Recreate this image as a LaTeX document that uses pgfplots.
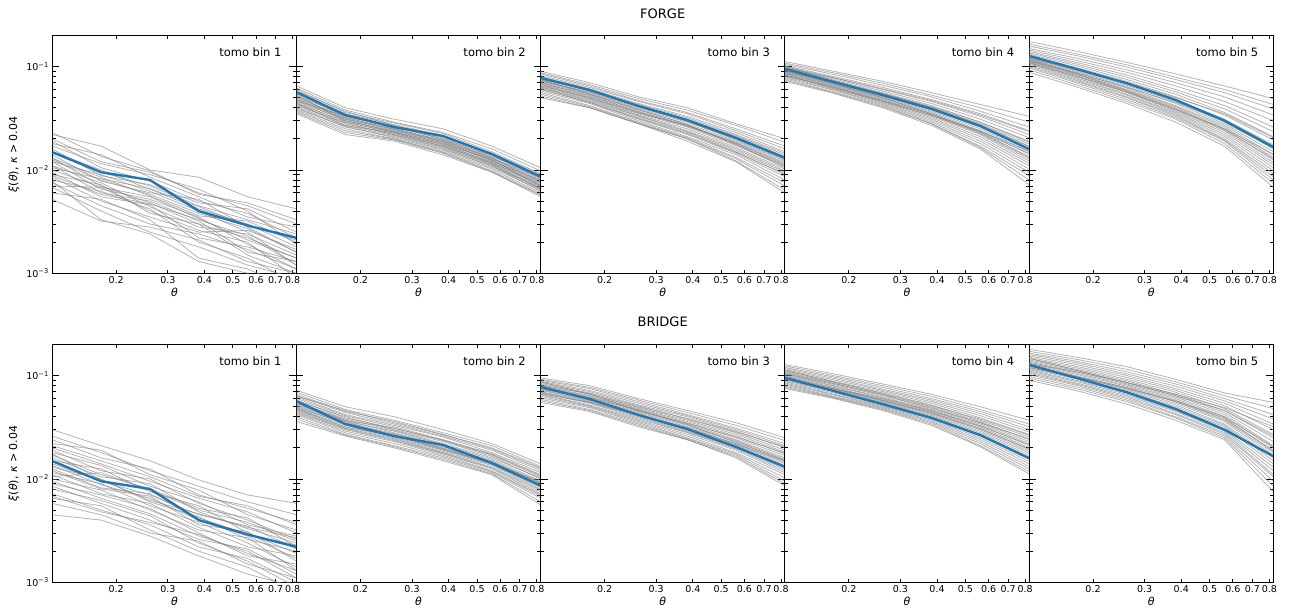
\documentclass[border=0pt]{standalone}
\usepackage{fontspec}
\setmainfont{DejaVu Sans}
\usepackage{pgfplots}
\pgfplotsset{compat=1.18}
\definecolor{tabblue}{HTML}{1F77B4}
\newcommand\gl[6]{\addplot[gray, opacity=0.6, line width=0.8pt, no markers] coordinates {(0.121,#1)(0.1776,#2)(0.2607,#3)(0.3827,#4)(0.5618,#5)(0.8247,#6)};}
\newcommand\bl[6]{\addplot[tabblue, line width=2.4pt, no markers, line join=round] coordinates {(0.121,#1)(0.1776,#2)(0.2607,#3)(0.3827,#4)(0.5618,#5)(0.8247,#6)};}
\pgfplotsset{
  mypanel/.style={scale only axis, width=244.2pt, height=237.8pt,
    xmin=0.121, xmax=0.8247, ymin=0.001, ymax=0.2,
    xtick={0.2,0.3,0.4,0.5,0.6,0.7,0.8},
    xticklabels={0.2,0.3,0.4,0.5,0.6,0.7,0.8},
    ytick={0.001,0.01,0.1},
    minor ytick={0.002,0.003,0.004,0.005,0.006,0.007,0.008,0.009,0.02,0.03,0.04,0.05,0.06,0.07,0.08,0.09,0.2},
    yticklabels={},
    tick align=inside, tick pos=both,
    major tick length=7pt, minor tick length=3.5pt,
    major tick style={black, line width=0.8pt},
    minor tick style={black, line width=0.8pt},
    axis line style={line width=1.1pt},
    tick label style={font=\fontsize{9.5}{11}\selectfont},
    xlabel={\textit{θ}}, xlabel style={font=\fontsize{11}{13}\selectfont, yshift=3pt},
    xtick style={/pgfplots/major tick length=3.5pt}},
  myfirst/.style={yticklabels={10\textsuperscript{−3},10\textsuperscript{−2},10\textsuperscript{−1}},
    ylabel={\textit{ξ}(\textit{θ}), \textit{κ} > 0.04}, ylabel style={font=\fontsize{11}{13}\selectfont}},
}
\newcommand\tomo[1]{\node[anchor=east, font=\fontsize{11.5}{13}\selectfont] at (rel axis cs:0.953,0.931) {tomo bin #1};}
\begin{document}
\begin{tikzpicture}[x=1pt,y=1pt]
% ================= FORGE =================
\begin{loglogaxis}[mypanel, myfirst, at={(52.3pt,341.7pt)}, anchor=south west]
\gl{0.022}{0.017}{0.010}{0.0085}{0.0055}{0.0042}
\gl{0.020}{0.012}{0.0095}{0.006}{0.0045}{0.003}
\gl{0.018}{0.014}{0.0085}{0.0055}{0.0035}{0.0028}
\gl{0.016}{0.0088}{0.0072}{0.0048}{0.0042}{0.0025}
\gl{0.015}{0.010}{0.0065}{0.0042}{0.0030}{0.0018}
\gl{0.014}{0.0078}{0.0060}{0.0052}{0.0028}{0.0016}
\gl{0.013}{0.0085}{0.0056}{0.0036}{0.0032}{0.0020}
\gl{0.013}{0.0070}{0.0048}{0.0030}{0.0022}{0.0014}
\gl{0.012}{0.0090}{0.0062}{0.0040}{0.0025}{0.0012}
\gl{0.012}{0.0065}{0.0052}{0.0035}{0.0019}{0.0011}
\gl{0.011}{0.0075}{0.0044}{0.0028}{0.0024}{0.0015}
\gl{0.011}{0.0060}{0.0050}{0.0032}{0.0016}{0.0013}
\gl{0.010}{0.0068}{0.0040}{0.0026}{0.0020}{0.0009}
\gl{0.0095}{0.0055}{0.0046}{0.0022}{0.0018}{0.0013}
\gl{0.0090}{0.0072}{0.0038}{0.0030}{0.0015}{0.0010}
\gl{0.0085}{0.0050}{0.0035}{0.0025}{0.0026}{0.0017}
\gl{0.0080}{0.0062}{0.0042}{0.0020}{0.0014}{0.0008}
\gl{0.0075}{0.0045}{0.0030}{0.0024}{0.0017}{0.0011}
\gl{0.0070}{0.0068}{0.0055}{0.0034}{0.0021}{0.0014}
\gl{0.0068}{0.0040}{0.0025}{0.0018}{0.0012}{0.0009}
\gl{0.0060}{0.0052}{0.0033}{0.0014}{0.0011}{0.0007}
\gl{0.0052}{0.0032}{0.0028}{0.0021}{0.0013}{0.0010}
\gl{0.019}{0.0105}{0.0078}{0.0050}{0.0038}{0.0022}
\gl{0.017}{0.0115}{0.0090}{0.0065}{0.0040}{0.0019}
\gl{0.0145}{0.0095}{0.0070}{0.0045}{0.0033}{0.0024}
\gl{0.0125}{0.0080}{0.0058}{0.0038}{0.0027}{0.0016}
\gl{0.0105}{0.0082}{0.0066}{0.0044}{0.0029}{0.0021}
\gl{0.0088}{0.0058}{0.0047}{0.0033}{0.0023}{0.0012}
\gl{0.023}{0.0135}{0.0098}{0.0058}{0.0048}{0.0033}
\gl{0.0078}{0.0033}{0.0024}{0.0013}{0.0010}{0.0006}
\bl{0.0149}{0.0095}{0.0080}{0.0040}{0.0029}{0.0022}
\tomo{1}
\end{loglogaxis}
\begin{loglogaxis}[mypanel, at={(296.5pt,341.7pt)}, anchor=south west]
\gl{0.065}{0.040}{0.031}{0.025}{0.0170}{0.0105}
\gl{0.062}{0.038}{0.029}{0.023}{0.0160}{0.0098}
\gl{0.060}{0.036}{0.0285}{0.0225}{0.0150}{0.0092}
\gl{0.058}{0.037}{0.027}{0.021}{0.0145}{0.0090}
\gl{0.055}{0.035}{0.0275}{0.0215}{0.0140}{0.0085}
\gl{0.054}{0.033}{0.026}{0.020}{0.0138}{0.0082}
\gl{0.052}{0.034}{0.0265}{0.0198}{0.0132}{0.0080}
\gl{0.051}{0.032}{0.025}{0.0195}{0.0130}{0.0084}
\gl{0.050}{0.0325}{0.0245}{0.019}{0.0128}{0.0078}
\gl{0.049}{0.031}{0.0248}{0.0185}{0.0125}{0.0075}
\gl{0.048}{0.0315}{0.024}{0.0188}{0.0122}{0.0079}
\gl{0.047}{0.030}{0.0235}{0.018}{0.0124}{0.0072}
\gl{0.046}{0.031}{0.023}{0.0178}{0.0118}{0.0074}
\gl{0.045}{0.029}{0.0232}{0.0175}{0.0120}{0.0070}
\gl{0.044}{0.0295}{0.0225}{0.0172}{0.0115}{0.0068}
\gl{0.043}{0.028}{0.022}{0.017}{0.0117}{0.0071}
\gl{0.042}{0.0285}{0.0218}{0.0165}{0.0112}{0.0065}
\gl{0.041}{0.027}{0.0215}{0.0162}{0.0108}{0.0067}
\gl{0.040}{0.026}{0.021}{0.0158}{0.0110}{0.0062}
\gl{0.039}{0.0265}{0.0205}{0.0155}{0.0105}{0.0064}
\gl{0.038}{0.025}{0.020}{0.015}{0.0102}{0.0060}
\gl{0.037}{0.024}{0.0198}{0.0148}{0.0098}{0.0058}
\gl{0.036}{0.023}{0.0195}{0.0145}{0.0096}{0.0055}
\gl{0.035}{0.022}{0.019}{0.014}{0.0095}{0.0057}
\gl{0.053}{0.030}{0.0238}{0.0182}{0.0126}{0.0069}
\gl{0.047}{0.0335}{0.0262}{0.0205}{0.0135}{0.0088}
\gl{0.044}{0.027}{0.0228}{0.0168}{0.0114}{0.0066}
\gl{0.057}{0.034}{0.0252}{0.0192}{0.0131}{0.0076}
\bl{0.0565}{0.034}{0.026}{0.0213}{0.01425}{0.0086}
\tomo{2}
\end{loglogaxis}
\begin{loglogaxis}[mypanel, at={(540.7pt,341.7pt)}, anchor=south west]
\gl{0.090}{0.070}{0.051}{0.040}{0.028}{0.0200}
\gl{0.087}{0.067}{0.049}{0.038}{0.027}{0.0185}
\gl{0.085}{0.065}{0.047}{0.036}{0.025}{0.0170}
\gl{0.082}{0.063}{0.046}{0.035}{0.024}{0.0160}
\gl{0.080}{0.061}{0.044}{0.033}{0.023}{0.0150}
\gl{0.078}{0.059}{0.043}{0.032}{0.022}{0.0145}
\gl{0.076}{0.058}{0.042}{0.031}{0.0215}{0.0140}
\gl{0.074}{0.056}{0.040}{0.030}{0.021}{0.0135}
\gl{0.073}{0.055}{0.039}{0.029}{0.020}{0.0128}
\gl{0.071}{0.054}{0.038}{0.028}{0.019}{0.0122}
\gl{0.070}{0.052}{0.037}{0.027}{0.0185}{0.0118}
\gl{0.068}{0.051}{0.036}{0.0265}{0.018}{0.0112}
\gl{0.067}{0.050}{0.035}{0.026}{0.0172}{0.0108}
\gl{0.066}{0.049}{0.034}{0.025}{0.0165}{0.0102}
\gl{0.064}{0.048}{0.0335}{0.024}{0.016}{0.0098}
\gl{0.063}{0.047}{0.033}{0.0235}{0.0155}{0.0095}
\gl{0.062}{0.046}{0.032}{0.023}{0.015}{0.0090}
\gl{0.060}{0.045}{0.031}{0.022}{0.0145}{0.0086}
\gl{0.058}{0.044}{0.030}{0.021}{0.014}{0.0080}
\gl{0.056}{0.042}{0.029}{0.0205}{0.0132}{0.0075}
\gl{0.054}{0.041}{0.0285}{0.020}{0.0128}{0.0070}
\gl{0.052}{0.040}{0.028}{0.020}{0.0122}{0.0064}
\gl{0.050}{0.040}{0.028}{0.019}{0.012}{0.0060}
\gl{0.072}{0.057}{0.041}{0.0295}{0.0195}{0.0125}
\gl{0.069}{0.053}{0.0365}{0.0268}{0.0178}{0.0105}
\gl{0.065}{0.050}{0.0355}{0.027}{0.0182}{0.0115}
\gl{0.061}{0.045}{0.0315}{0.0225}{0.0148}{0.0092}
\gl{0.075}{0.054}{0.0385}{0.0275}{0.0175}{0.0110}
\bl{0.0776}{0.0594}{0.0416}{0.0304}{0.0204}{0.0131}
\tomo{3}
\end{loglogaxis}
\begin{loglogaxis}[mypanel, at={(784.9pt,341.7pt)}, anchor=south west]
\gl{0.112}{0.090}{0.072}{0.056}{0.043}{0.0330}
\gl{0.108}{0.087}{0.069}{0.053}{0.040}{0.0290}
\gl{0.105}{0.084}{0.066}{0.051}{0.037}{0.0260}
\gl{0.102}{0.080}{0.063}{0.048}{0.035}{0.0240}
\gl{0.100}{0.078}{0.060}{0.046}{0.033}{0.0220}
\gl{0.098}{0.076}{0.058}{0.044}{0.031}{0.0205}
\gl{0.096}{0.074}{0.056}{0.042}{0.029}{0.0190}
\gl{0.094}{0.072}{0.054}{0.040}{0.028}{0.0178}
\gl{0.093}{0.071}{0.053}{0.039}{0.027}{0.0168}
\gl{0.091}{0.069}{0.052}{0.038}{0.026}{0.0158}
\gl{0.090}{0.068}{0.051}{0.037}{0.025}{0.0150}
\gl{0.088}{0.067}{0.050}{0.036}{0.024}{0.0142}
\gl{0.087}{0.066}{0.049}{0.035}{0.023}{0.0135}
\gl{0.086}{0.065}{0.048}{0.034}{0.0225}{0.0128}
\gl{0.085}{0.064}{0.047}{0.033}{0.022}{0.0122}
\gl{0.083}{0.063}{0.046}{0.032}{0.021}{0.0116}
\gl{0.082}{0.062}{0.045}{0.031}{0.020}{0.0110}
\gl{0.080}{0.060}{0.044}{0.030}{0.019}{0.0102}
\gl{0.078}{0.059}{0.043}{0.029}{0.018}{0.0095}
\gl{0.076}{0.057}{0.042}{0.028}{0.017}{0.0088}
\gl{0.074}{0.056}{0.041}{0.028}{0.0165}{0.0080}
\gl{0.072}{0.055}{0.040}{0.027}{0.016}{0.0072}
\gl{0.097}{0.078}{0.061}{0.047}{0.034}{0.0235}
\gl{0.089}{0.070}{0.055}{0.041}{0.029}{0.0185}
\gl{0.084}{0.061}{0.046}{0.0335}{0.0235}{0.0145}
\gl{0.092}{0.068}{0.050}{0.035}{0.0232}{0.0132}
\gl{0.081}{0.063}{0.047}{0.0345}{0.0238}{0.0152}
\gl{0.101}{0.073}{0.055}{0.0405}{0.0275}{0.0170}
\bl{0.095}{0.071}{0.053}{0.039}{0.0266}{0.0159}
\tomo{4}
\end{loglogaxis}
\begin{loglogaxis}[mypanel, at={(1029.1pt,341.7pt)}, anchor=south west]
\gl{0.175}{0.140}{0.110}{0.085}{0.065}{0.0490}
\gl{0.165}{0.132}{0.104}{0.079}{0.060}{0.0430}
\gl{0.158}{0.127}{0.099}{0.075}{0.056}{0.0390}
\gl{0.150}{0.120}{0.093}{0.070}{0.051}{0.0340}
\gl{0.145}{0.114}{0.088}{0.065}{0.046}{0.0300}
\gl{0.140}{0.109}{0.083}{0.060}{0.042}{0.0260}
\gl{0.136}{0.105}{0.079}{0.057}{0.039}{0.0235}
\gl{0.132}{0.101}{0.075}{0.054}{0.036}{0.0210}
\gl{0.128}{0.097}{0.072}{0.051}{0.034}{0.0195}
\gl{0.125}{0.094}{0.069}{0.048}{0.031}{0.0175}
\gl{0.122}{0.091}{0.066}{0.046}{0.029}{0.0160}
\gl{0.120}{0.089}{0.064}{0.044}{0.028}{0.0150}
\gl{0.118}{0.087}{0.062}{0.042}{0.027}{0.0140}
\gl{0.116}{0.085}{0.060}{0.041}{0.026}{0.0132}
\gl{0.114}{0.083}{0.059}{0.040}{0.025}{0.0125}
\gl{0.112}{0.081}{0.057}{0.038}{0.024}{0.0118}
\gl{0.110}{0.079}{0.056}{0.037}{0.023}{0.0112}
\gl{0.108}{0.077}{0.054}{0.036}{0.022}{0.0105}
\gl{0.106}{0.075}{0.053}{0.035}{0.021}{0.0098}
\gl{0.103}{0.073}{0.051}{0.034}{0.020}{0.0092}
\gl{0.100}{0.071}{0.050}{0.033}{0.0195}{0.0086}
\gl{0.097}{0.069}{0.048}{0.032}{0.019}{0.0080}
\gl{0.093}{0.066}{0.046}{0.031}{0.018}{0.0074}
\gl{0.088}{0.063}{0.044}{0.029}{0.017}{0.0068}
\gl{0.121}{0.093}{0.070}{0.050}{0.035}{0.0205}
\gl{0.113}{0.086}{0.063}{0.045}{0.030}{0.0170}
\gl{0.117}{0.084}{0.058}{0.039}{0.0245}{0.0128}
\gl{0.109}{0.080}{0.057}{0.0385}{0.025}{0.0142}
\bl{0.127}{0.094}{0.069}{0.0476}{0.030}{0.0166}
\tomo{5}
\end{loglogaxis}
% ================= BRIDGE =================
\begin{loglogaxis}[mypanel, myfirst, at={(52.3pt,32.7pt)}, anchor=south west]
\gl{0.030}{0.021}{0.015}{0.0098}{0.0070}{0.0058}
\gl{0.026}{0.018}{0.012}{0.0085}{0.0060}{0.0045}
\gl{0.024}{0.016}{0.0125}{0.0070}{0.0052}{0.0038}
\gl{0.022}{0.019}{0.011}{0.0078}{0.0045}{0.0032}
\gl{0.020}{0.014}{0.0095}{0.0065}{0.0048}{0.0030}
\gl{0.019}{0.012}{0.0100}{0.0058}{0.0040}{0.0026}
\gl{0.018}{0.0135}{0.0085}{0.0060}{0.0036}{0.0028}
\gl{0.017}{0.011}{0.0080}{0.0052}{0.0042}{0.0022}
\gl{0.016}{0.0105}{0.0090}{0.0048}{0.0033}{0.0024}
\gl{0.015}{0.0125}{0.0075}{0.0055}{0.0030}{0.0019}
\gl{0.014}{0.0095}{0.0070}{0.0045}{0.0035}{0.0021}
\gl{0.0135}{0.0088}{0.0065}{0.0040}{0.0028}{0.0017}
\gl{0.013}{0.0100}{0.0060}{0.0043}{0.0026}{0.0020}
\gl{0.012}{0.0080}{0.0068}{0.0036}{0.0031}{0.0016}
\gl{0.0115}{0.0090}{0.0055}{0.0038}{0.0024}{0.0014}
\gl{0.011}{0.0072}{0.0058}{0.0034}{0.0022}{0.0018}
\gl{0.010}{0.0078}{0.0050}{0.0032}{0.0027}{0.0013}
\gl{0.0095}{0.0065}{0.0046}{0.0028}{0.0020}{0.0011}
\gl{0.009}{0.0070}{0.0052}{0.0030}{0.0018}{0.0015}
\gl{0.0085}{0.0058}{0.0040}{0.0026}{0.0021}{0.0012}
\gl{0.008}{0.0062}{0.0044}{0.0024}{0.0016}{0.0009}
\gl{0.0072}{0.0050}{0.0036}{0.0022}{0.0017}{0.0010}
\gl{0.0065}{0.0055}{0.0032}{0.0020}{0.0014}{0.0008}
\gl{0.0058}{0.0045}{0.0030}{0.0025}{0.0015}{0.0011}
\gl{0.0045}{0.0040}{0.0028}{0.0018}{0.0012}{0.0009}
\gl{0.0105}{0.0115}{0.0078}{0.0050}{0.0038}{0.0025}
\gl{0.0125}{0.0082}{0.0072}{0.0042}{0.0029}{0.0023}
\gl{0.0175}{0.0098}{0.0062}{0.0046}{0.0034}{0.0027}
\gl{0.021}{0.0150}{0.0105}{0.0068}{0.0055}{0.0036}
\gl{0.0068}{0.0048}{0.0038}{0.0029}{0.0019}{0.0013}
\bl{0.0149}{0.0095}{0.0080}{0.0040}{0.0029}{0.0022}
\tomo{1}
\end{loglogaxis}
\begin{loglogaxis}[mypanel, at={(296.5pt,32.7pt)}, anchor=south west]
\gl{0.072}{0.050}{0.040}{0.030}{0.022}{0.0140}
\gl{0.069}{0.047}{0.037}{0.028}{0.021}{0.0132}
\gl{0.066}{0.045}{0.036}{0.027}{0.0195}{0.0125}
\gl{0.064}{0.044}{0.034}{0.026}{0.019}{0.0120}
\gl{0.062}{0.042}{0.033}{0.0255}{0.018}{0.0115}
\gl{0.060}{0.041}{0.032}{0.024}{0.0175}{0.0110}
\gl{0.058}{0.039}{0.031}{0.0235}{0.017}{0.0105}
\gl{0.057}{0.040}{0.030}{0.023}{0.0165}{0.0100}
\gl{0.055}{0.038}{0.0295}{0.022}{0.016}{0.0102}
\gl{0.054}{0.036}{0.029}{0.0215}{0.0155}{0.0096}
\gl{0.053}{0.037}{0.028}{0.021}{0.015}{0.0092}
\gl{0.051}{0.035}{0.0275}{0.0205}{0.0148}{0.0090}
\gl{0.050}{0.034}{0.027}{0.020}{0.0145}{0.0094}
\gl{0.049}{0.0345}{0.026}{0.0195}{0.014}{0.0086}
\gl{0.048}{0.033}{0.0255}{0.019}{0.0138}{0.0083}
\gl{0.047}{0.032}{0.025}{0.0185}{0.0135}{0.0080}
\gl{0.046}{0.031}{0.0245}{0.018}{0.013}{0.0078}
\gl{0.045}{0.0305}{0.024}{0.0178}{0.0128}{0.0075}
\gl{0.044}{0.030}{0.0235}{0.0175}{0.0125}{0.0072}
\gl{0.043}{0.029}{0.023}{0.017}{0.012}{0.0070}
\gl{0.042}{0.028}{0.022}{0.0165}{0.0118}{0.0068}
\gl{0.040}{0.027}{0.021}{0.016}{0.0115}{0.0065}
\gl{0.038}{0.0265}{0.0205}{0.0155}{0.0112}{0.0060}
\gl{0.036}{0.026}{0.020}{0.015}{0.011}{0.0056}
\gl{0.063}{0.046}{0.035}{0.0268}{0.020}{0.0128}
\gl{0.056}{0.037}{0.031}{0.0238}{0.0172}{0.0108}
\gl{0.052}{0.036}{0.0262}{0.0198}{0.0142}{0.0088}
\gl{0.048}{0.0315}{0.0265}{0.0192}{0.0143}{0.0091}
\bl{0.0565}{0.034}{0.026}{0.0213}{0.01425}{0.0086}
\tomo{2}
\end{loglogaxis}
\begin{loglogaxis}[mypanel, at={(540.7pt,32.7pt)}, anchor=south west]
\gl{0.095}{0.080}{0.060}{0.046}{0.035}{0.0250}
\gl{0.092}{0.077}{0.058}{0.044}{0.033}{0.0235}
\gl{0.090}{0.075}{0.056}{0.042}{0.031}{0.0220}
\gl{0.088}{0.072}{0.054}{0.041}{0.030}{0.0210}
\gl{0.086}{0.070}{0.052}{0.040}{0.029}{0.0200}
\gl{0.084}{0.068}{0.051}{0.038}{0.028}{0.0190}
\gl{0.082}{0.066}{0.049}{0.037}{0.027}{0.0182}
\gl{0.080}{0.064}{0.048}{0.036}{0.026}{0.0175}
\gl{0.079}{0.063}{0.047}{0.035}{0.025}{0.0168}
\gl{0.077}{0.062}{0.046}{0.034}{0.024}{0.0160}
\gl{0.076}{0.060}{0.045}{0.033}{0.0235}{0.0155}
\gl{0.075}{0.059}{0.044}{0.032}{0.023}{0.0150}
\gl{0.073}{0.058}{0.043}{0.031}{0.022}{0.0145}
\gl{0.072}{0.057}{0.042}{0.0305}{0.0215}{0.0140}
\gl{0.070}{0.056}{0.041}{0.030}{0.021}{0.0135}
\gl{0.069}{0.055}{0.040}{0.029}{0.0205}{0.0130}
\gl{0.068}{0.054}{0.039}{0.0285}{0.020}{0.0125}
\gl{0.066}{0.052}{0.038}{0.028}{0.0195}{0.0120}
\gl{0.065}{0.051}{0.037}{0.027}{0.019}{0.0115}
\gl{0.063}{0.050}{0.036}{0.026}{0.018}{0.0110}
\gl{0.061}{0.049}{0.035}{0.025}{0.0175}{0.0102}
\gl{0.059}{0.047}{0.034}{0.0245}{0.017}{0.0095}
\gl{0.057}{0.046}{0.033}{0.024}{0.0165}{0.0090}
\gl{0.055}{0.045}{0.032}{0.024}{0.016}{0.0086}
\gl{0.087}{0.066}{0.050}{0.0385}{0.0285}{0.0205}
\gl{0.081}{0.067}{0.0455}{0.0345}{0.0255}{0.0178}
\gl{0.074}{0.061}{0.0465}{0.0335}{0.0225}{0.0152}
\gl{0.067}{0.055}{0.0415}{0.0315}{0.0218}{0.0148}
\bl{0.0776}{0.0594}{0.0416}{0.0304}{0.0204}{0.0131}
\tomo{3}
\end{loglogaxis}
\begin{loglogaxis}[mypanel, at={(784.9pt,32.7pt)}, anchor=south west]
\gl{0.128}{0.104}{0.083}{0.066}{0.050}{0.0370}
\gl{0.124}{0.100}{0.080}{0.063}{0.047}{0.0340}
\gl{0.120}{0.097}{0.077}{0.060}{0.045}{0.0320}
\gl{0.117}{0.094}{0.074}{0.058}{0.043}{0.0300}
\gl{0.114}{0.091}{0.072}{0.056}{0.041}{0.0285}
\gl{0.111}{0.088}{0.070}{0.054}{0.039}{0.0270}
\gl{0.109}{0.086}{0.068}{0.052}{0.037}{0.0255}
\gl{0.107}{0.084}{0.066}{0.050}{0.036}{0.0240}
\gl{0.105}{0.082}{0.064}{0.049}{0.035}{0.0230}
\gl{0.103}{0.080}{0.062}{0.047}{0.034}{0.0220}
\gl{0.101}{0.079}{0.061}{0.046}{0.033}{0.0210}
\gl{0.099}{0.077}{0.059}{0.045}{0.032}{0.0200}
\gl{0.097}{0.076}{0.058}{0.044}{0.031}{0.0192}
\gl{0.095}{0.074}{0.057}{0.043}{0.030}{0.0185}
\gl{0.093}{0.073}{0.056}{0.042}{0.029}{0.0178}
\gl{0.091}{0.071}{0.055}{0.041}{0.028}{0.0170}
\gl{0.089}{0.070}{0.054}{0.040}{0.027}{0.0162}
\gl{0.087}{0.068}{0.052}{0.039}{0.026}{0.0155}
\gl{0.085}{0.066}{0.051}{0.038}{0.025}{0.0148}
\gl{0.083}{0.065}{0.050}{0.037}{0.024}{0.0140}
\gl{0.081}{0.063}{0.049}{0.036}{0.023}{0.0132}
\gl{0.079}{0.062}{0.048}{0.035}{0.022}{0.0125}
\gl{0.077}{0.061}{0.047}{0.034}{0.021}{0.0118}
\gl{0.075}{0.060}{0.046}{0.033}{0.0205}{0.0112}
\gl{0.113}{0.087}{0.067}{0.051}{0.038}{0.0265}
\gl{0.104}{0.084}{0.065}{0.048}{0.035}{0.0245}
\gl{0.098}{0.074}{0.060}{0.0455}{0.0325}{0.0215}
\gl{0.092}{0.075}{0.0575}{0.0435}{0.0305}{0.0195}
\bl{0.095}{0.071}{0.053}{0.039}{0.0266}{0.0159}
\tomo{4}
\end{loglogaxis}
\begin{loglogaxis}[mypanel, at={(1029.1pt,32.7pt)}, anchor=south west]
\gl{0.180}{0.150}{0.122}{0.092}{0.068}{0.055}
\gl{0.172}{0.143}{0.115}{0.087}{0.064}{0.048}
\gl{0.165}{0.137}{0.109}{0.083}{0.060}{0.042}
\gl{0.160}{0.132}{0.104}{0.079}{0.057}{0.038}
\gl{0.155}{0.127}{0.100}{0.075}{0.054}{0.034}
\gl{0.150}{0.122}{0.096}{0.072}{0.051}{0.030}
\gl{0.146}{0.118}{0.092}{0.069}{0.048}{0.027}
\gl{0.142}{0.114}{0.089}{0.066}{0.046}{0.025}
\gl{0.138}{0.111}{0.086}{0.064}{0.044}{0.023}
\gl{0.135}{0.108}{0.083}{0.062}{0.042}{0.021}
\gl{0.132}{0.105}{0.081}{0.060}{0.040}{0.020}
\gl{0.129}{0.102}{0.079}{0.058}{0.038}{0.019}
\gl{0.126}{0.099}{0.076}{0.056}{0.037}{0.018}
\gl{0.123}{0.097}{0.074}{0.054}{0.036}{0.017}
\gl{0.120}{0.094}{0.072}{0.052}{0.034}{0.016}
\gl{0.117}{0.092}{0.070}{0.050}{0.033}{0.015}
\gl{0.114}{0.089}{0.068}{0.048}{0.032}{0.014}
\gl{0.111}{0.087}{0.066}{0.046}{0.030}{0.013}
\gl{0.108}{0.084}{0.064}{0.045}{0.029}{0.012}
\gl{0.105}{0.082}{0.062}{0.043}{0.028}{0.011}
\gl{0.102}{0.080}{0.060}{0.042}{0.027}{0.0105}
\gl{0.098}{0.077}{0.058}{0.040}{0.026}{0.0095}
\gl{0.094}{0.074}{0.056}{0.039}{0.025}{0.0085}
\gl{0.090}{0.071}{0.053}{0.037}{0.024}{0.0075}
\gl{0.147}{0.112}{0.085}{0.064}{0.046}{0.026}
\gl{0.131}{0.108}{0.086}{0.066}{0.049}{0.032}
\gl{0.125}{0.096}{0.075}{0.057}{0.040}{0.0205}
\gl{0.119}{0.097}{0.077}{0.056}{0.039}{0.0185}
\bl{0.127}{0.094}{0.069}{0.0476}{0.030}{0.0166}
\tomo{5}
\end{loglogaxis}
\node[font=\fontsize{13}{15}\selectfont] at (662.7pt,601pt) {FORGE};
\node[font=\fontsize{13}{15}\selectfont] at (662.7pt,293pt) {BRIDGE};
\pgfresetboundingbox
\path[use as bounding box] (0pt,0pt) rectangle (1293pt,615pt);
\end{tikzpicture}
\end{document}
